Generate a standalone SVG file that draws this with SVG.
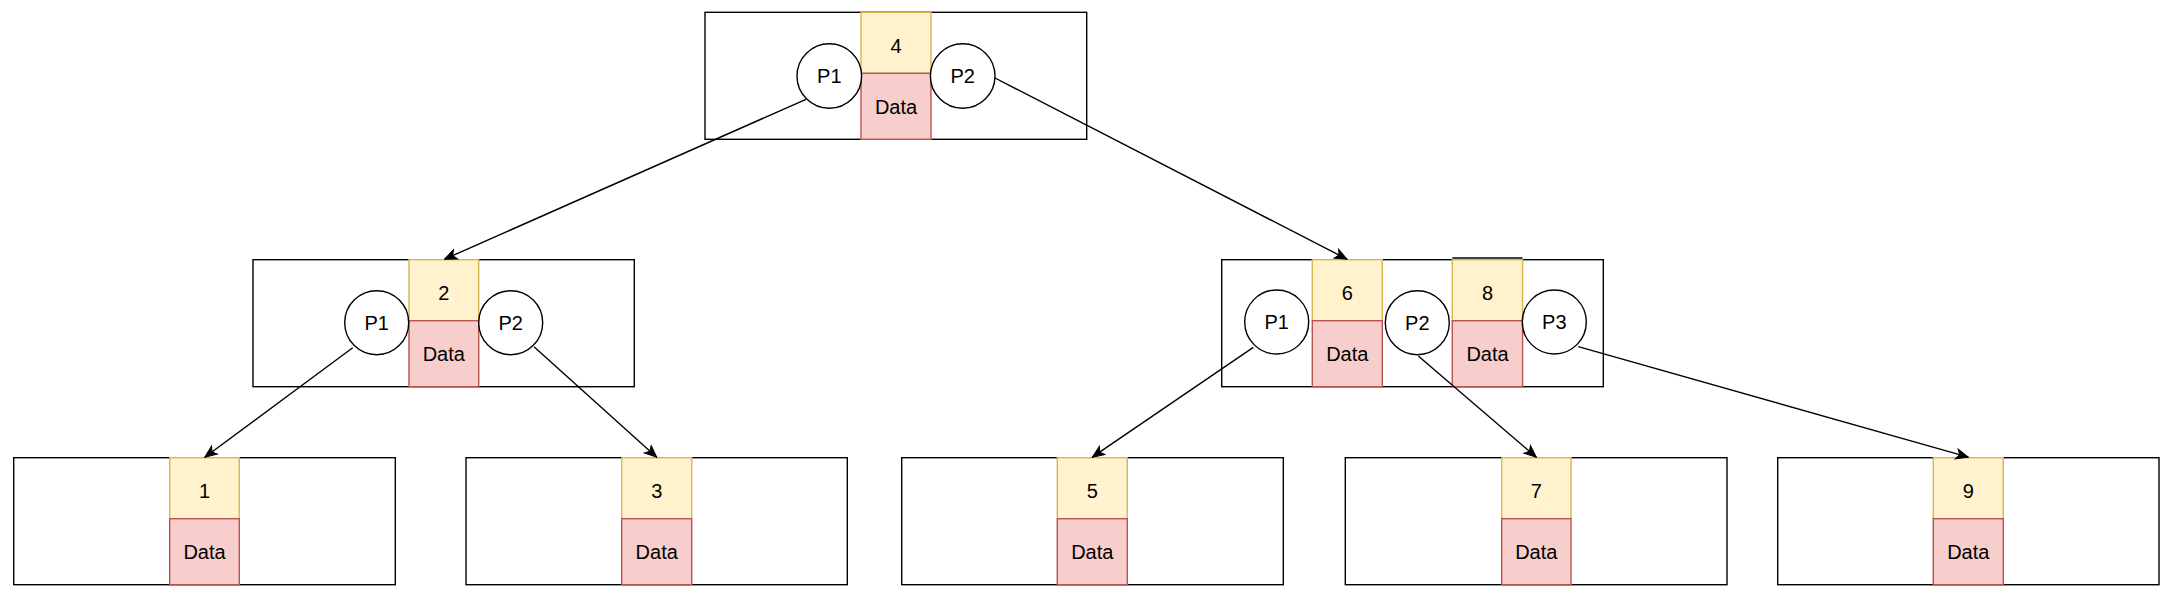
<svg xmlns="http://www.w3.org/2000/svg" width="2170" height="607" viewBox="0 0 2170 607">
<defs>
<style>
.box{fill:#fff;stroke:#000;stroke-width:1.4}
.k{fill:#fff2cc;stroke:#d6b656;stroke-width:1.4}
.d{fill:#f8cecc;stroke:#b85450;stroke-width:1.4}
.c{fill:#fff;stroke:#000;stroke-width:1.4}
.t{font-family:"Liberation Sans",Arial,sans-serif;font-size:20px;fill:#000;text-anchor:middle}
.e{fill:none;stroke:#000;stroke-width:1.4;marker-end:url(#arr)}
</style>
<marker id="arr" markerUnits="userSpaceOnUse" viewBox="-13 -7 14 14" refX="0" refY="0" markerWidth="14" markerHeight="14" orient="auto">
<path d="M-12,-5 L0,0 L-12,5 L-9,0 Z" fill="#000" stroke="#000" stroke-width="1"/>
</marker>
</defs>
<g id="node-4">
<rect class="box" x="705" y="12.3" width="381.7" height="127"/>
<rect class="k" x="861" y="12.3" width="70" height="61"/>
<rect class="d" x="861" y="73.3" width="70" height="66"/>
<text class="t" x="896" y="52.7">4</text>
<text class="t" x="896" y="113.5">Data</text>
<circle class="c" cx="829.3" cy="76" r="32.3"/>
<text class="t" x="829.3" y="83.2">P1</text>
<circle class="c" cx="962.7" cy="76" r="32.3"/>
<text class="t" x="962.7" y="83.2">P2</text>
</g>
<g id="node-2">
<rect class="box" x="253" y="259.7" width="381.3" height="127"/>
<rect class="k" x="409" y="259.7" width="69.7" height="61"/>
<rect class="d" x="409" y="320.7" width="69.7" height="66"/>
<text class="t" x="443.8" y="300.1">2</text>
<text class="t" x="443.8" y="360.9">Data</text>
<circle class="c" cx="376.7" cy="322.7" r="32"/>
<text class="t" x="376.7" y="329.9">P1</text>
<circle class="c" cx="510.7" cy="322.7" r="32"/>
<text class="t" x="510.7" y="329.9">P2</text>
</g>
<g id="node-6-8">
<rect class="box" x="1221.7" y="259.7" width="381.6" height="127"/>
<rect class="k" x="1312.3" y="259.7" width="70" height="61"/>
<rect class="d" x="1312.3" y="320.7" width="70" height="66"/>
<text class="t" x="1347.3" y="300.1">6</text>
<text class="t" x="1347.3" y="360.9">Data</text>
<rect class="k" x="1452.3" y="259.7" width="70.3" height="61"/>
<rect class="d" x="1452.3" y="320.7" width="70.3" height="66"/>
<line x1="1452.3" y1="258" x2="1522.6" y2="258" stroke="#000" stroke-width="1.4"/>
<text class="t" x="1487.5" y="300.1">8</text>
<text class="t" x="1487.5" y="360.9">Data</text>
<circle class="c" cx="1276.7" cy="322" r="32"/>
<text class="t" x="1276.7" y="329.2">P1</text>
<circle class="c" cx="1417.3" cy="322.7" r="32"/>
<text class="t" x="1417.3" y="329.9">P2</text>
<circle class="c" cx="1554.3" cy="322" r="32"/>
<text class="t" x="1554.3" y="329.2">P3</text>
</g>
<g id="leaf-1">
<rect class="box" x="13.7" y="457.7" width="381.6" height="127"/>
<rect class="k" x="169.7" y="457.7" width="69.6" height="61"/>
<rect class="d" x="169.7" y="518.7" width="69.6" height="66"/>
<text class="t" x="204.5" y="498.1">1</text>
<text class="t" x="204.5" y="558.9">Data</text>
</g>
<g id="leaf-3">
<rect class="box" x="466" y="457.7" width="381.3" height="127"/>
<rect class="k" x="621.7" y="457.7" width="70" height="61"/>
<rect class="d" x="621.7" y="518.7" width="70" height="66"/>
<text class="t" x="656.7" y="498.1">3</text>
<text class="t" x="656.7" y="558.9">Data</text>
</g>
<g id="leaf-5">
<rect class="box" x="901.7" y="457.7" width="381.6" height="127"/>
<rect class="k" x="1057.3" y="457.7" width="70" height="61"/>
<rect class="d" x="1057.3" y="518.7" width="70" height="66"/>
<text class="t" x="1092.3" y="498.1">5</text>
<text class="t" x="1092.3" y="558.9">Data</text>
</g>
<g id="leaf-7">
<rect class="box" x="1345.3" y="457.7" width="381.7" height="127"/>
<rect class="k" x="1501.7" y="457.7" width="69.3" height="61"/>
<rect class="d" x="1501.7" y="518.7" width="69.3" height="66"/>
<text class="t" x="1536.3" y="498.1">7</text>
<text class="t" x="1536.3" y="558.9">Data</text>
</g>
<g id="leaf-9">
<rect class="box" x="1777.7" y="457.7" width="381.3" height="127"/>
<rect class="k" x="1933.3" y="457.7" width="70" height="61"/>
<rect class="d" x="1933.3" y="518.7" width="70" height="66"/>
<text class="t" x="1968.3" y="498.1">9</text>
<text class="t" x="1968.3" y="558.9">Data</text>
</g>
<g id="connectors">
<line class="e" x1="806" y1="99.3" x2="444.5" y2="259.2"/>
<line class="e" x1="995" y1="78" x2="1347" y2="259.2"/>
<line class="e" x1="352.7" y1="347.7" x2="204.8" y2="457.2"/>
<line class="e" x1="534" y1="346.7" x2="656.7" y2="457.2"/>
<line class="e" x1="1253.3" y1="347.3" x2="1092.3" y2="457.2"/>
<line class="e" x1="1418.3" y1="356" x2="1536.3" y2="457.2"/>
<line class="e" x1="1578.3" y1="346.7" x2="1968.3" y2="457.2"/>
</g>
</svg>
